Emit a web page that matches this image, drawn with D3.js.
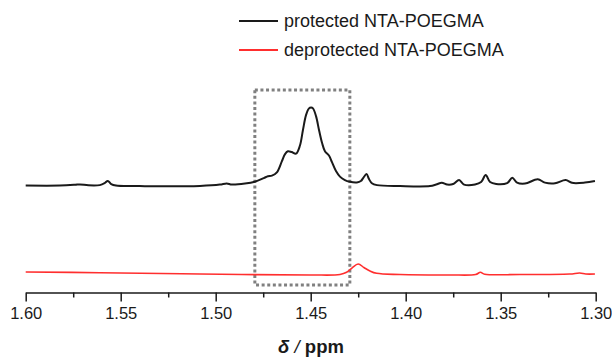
<!DOCTYPE html>
<html>
<head>
<meta charset="utf-8">
<script src="https://cdn.jsdelivr.net/npm/d3@7"></script>
<style>
  html, body { margin: 0; padding: 0; background: #fff; }
  svg { display: block; }
  text { font-family: "Liberation Sans", Arial, sans-serif; fill: #1a1a1a; }
</style>
</head>
<body>
<svg id="chart" width="612" height="358"></svg>
<script>
// 1H NMR, 1.30–1.60 ppm region (intensity in arbitrary units, baseline ≈ 0)
const protectedPpm = [1.600, 1.582, 1.574, 1.5714, 1.567, 1.561, 1.5585, 1.5568, 1.555, 1.5525,
  1.540, 1.5257, 1.5083, 1.4978, 1.4942, 1.4915, 1.4846, 1.4794, 1.4747, 1.4725,
  1.4704, 1.4678, 1.4652, 1.4636, 1.462, 1.460, 1.4577, 1.4557, 1.4541, 1.4525,
  1.451, 1.4498, 1.4488, 1.4472, 1.4456, 1.444, 1.4425, 1.4404, 1.4388, 1.4367,
  1.4346, 1.432, 1.4294, 1.4257, 1.4236, 1.4223, 1.4206, 1.4193, 1.4178, 1.4151,
  1.403, 1.3872, 1.384, 1.381, 1.3782, 1.375, 1.3719, 1.3693, 1.3635, 1.3603,
  1.3579, 1.3556, 1.3524, 1.3466, 1.3439, 1.3414, 1.3372, 1.3305, 1.3267, 1.3214,
  1.3158, 1.3125, 1.3057, 1.3004];
const protectedInt = [0, 0, 1, 1.5, 0.3, 0.6, 3, 6, 2, 0,
  -0.6, -1, -0.4, 1.3, 2.8, 1.3, 2.6, 5, 9.6, 12,
  12.8, 17, 31, 40, 44, 43, 41, 51, 71, 90,
  98.7, 100, 99, 89, 71, 54.5, 44, 38.5, 30, 18.6,
  11.5, 7, 4.9, 4.1, 5.8, 10, 14.7, 8.3, 3, 0.6,
  -0.6, -0.6, 1.3, 3.6, 1.3, 2, 7, 1.3, 1.3, 4.5,
  13.5, 4.5, 2, 3.2, 10, 3.8, 2.6, 8, 3.8, 3,
  7, 3.5, 3.8, 5.8];

const deprotectedPpm = [1.600, 1.561, 1.5083, 1.4503, 1.4346, 1.4311, 1.4283, 1.425, 1.422, 1.4188,
  1.4153, 1.403, 1.3767, 1.3632, 1.3607, 1.3584, 1.340, 1.3137, 1.3084, 1.3052, 1.3004];
const deprotectedInt = [3.2, 2.3, 0.6, -0.6, 0, 2.8, 8.3, 13.5, 9, 4.5,
  1.5, 0, -0.6, 0, 2.8, 0.4, 0, 0.6, 1.9, 0.6, 0.6];

const seriesNames = ["protected NTA-POEGMA", "deprotected NTA-POEGMA"];
const seriesColors = ["#1a1a1a", "#ff2e2e"];
const seriesOffsets = [114, 0];   // vertical stacking of the traces

const majorTicks = [1.60, 1.55, 1.50, 1.45, 1.40, 1.35, 1.30];
const minorTicks = [1.575, 1.525, 1.475, 1.425, 1.375, 1.325];
const highlightRange = [1.4794, 1.4294];   // boxed region, ppm

const svg = d3.select("#chart");

const x = d3.scaleLinear().domain([1.60, 1.30]).range([25.7, 595.7]);
const y = d3.scaleLinear().domain([0, 100]).range([274.5, 196.5]);

const axisY = 292.5;

// highlight box around the main multiplet
svg.append("rect")
  .attr("x", x(highlightRange[0]))
  .attr("y", 90)
  .attr("width", x(highlightRange[1]) - x(highlightRange[0]))
  .attr("height", 195)
  .attr("fill", "none")
  .attr("stroke", "#808080")
  .attr("stroke-width", 3)
  .attr("stroke-dasharray", "3,2.6");

// spectra
const series = [
  { ppm: protectedPpm, val: protectedInt },
  { ppm: deprotectedPpm, val: deprotectedInt }
];
const line = d3.line()
  .x(d => x(d[0]))
  .y(d => d[1])
  .curve(d3.curveCatmullRom.alpha(0.5));

series.forEach((s, i) => {
  const pts = s.ppm.map((p, k) => [p, y(s.val[k] + seriesOffsets[i])]);
  svg.append("path")
    .datum(pts)
    .attr("d", line)
    .attr("fill", "none")
    .attr("stroke", seriesColors[i])
    .attr("stroke-width", i === 0 ? 2 : 1.6)
    .attr("stroke-linejoin", "round");
});

// bottom axis: major ticks with labels, minor ticks between
const gMinor = svg.append("g").attr("transform", `translate(0,${axisY})`)
  .call(d3.axisBottom(x).tickValues(minorTicks).tickSize(5).tickSizeOuter(0).tickFormat(""));
gMinor.select(".domain").remove();

const gAxis = svg.append("g").attr("transform", `translate(0,${axisY})`)
  .call(d3.axisBottom(x).tickValues(majorTicks).tickSize(9).tickSizeOuter(0)
    .tickFormat(d3.format(".2f")).tickPadding(6));

svg.selectAll(".domain, .tick line")
  .attr("stroke", "#1a1a1a")
  .attr("stroke-width", 1.5);
gAxis.selectAll(".tick text")
  .attr("font-size", 16.5)
  .attr("font-family", "Liberation Sans, Arial, sans-serif")
  .attr("fill", "#1a1a1a");

// axis title
const title = svg.append("text")
  .attr("x", 311)
  .attr("y", 353)
  .attr("text-anchor", "middle")
  .attr("font-size", 18.5)
  .attr("font-weight", "bold");
title.append("tspan").attr("font-style", "italic").text("δ ");
title.append("tspan").attr("font-style", "italic").attr("font-weight", "normal").text("/ ");
title.append("tspan").text("ppm");

// legend
const legend = svg.append("g");
seriesNames.forEach((name, i) => {
  const ly = 21 + i * 29;
  legend.append("line")
    .attr("x1", 239).attr("x2", 278)
    .attr("y1", ly).attr("y2", ly)
    .attr("stroke", seriesColors[i])
    .attr("stroke-width", 2);
  legend.append("text")
    .attr("x", 284)
    .attr("y", ly)
    .attr("dy", "0.36em")
    .attr("font-size", 18)
    .text(name);
});
</script>
</body>
</html>
